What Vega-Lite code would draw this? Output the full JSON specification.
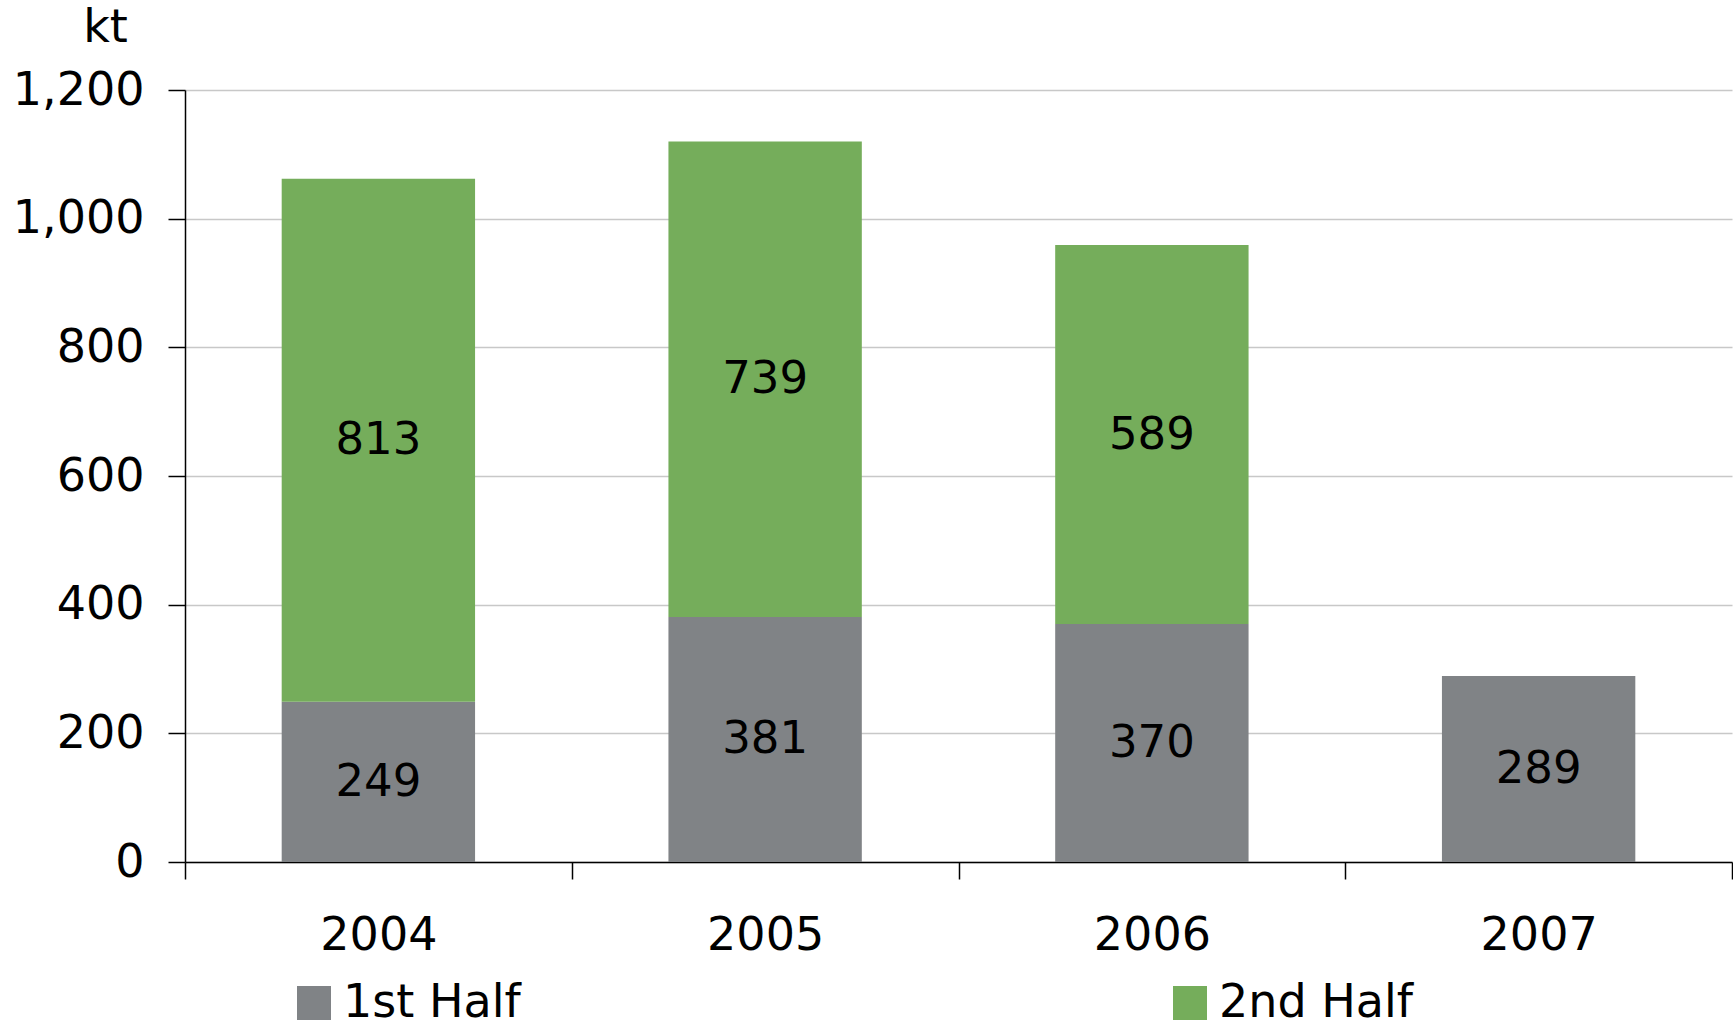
{
  "$schema": "https://vega.github.io/schema/vega-lite/v6.json",
  "autosize": "none",
  "padding": {"left": 185, "top": 90, "right": 1, "bottom": 165},
  "width": 1547,
  "height": 772,
  "background": "white",
  "config": {
    "view": {"stroke": null},
    "font": "DejaVu Sans"
  },
  "data": {
    "values": [
      {"year": "2004", "half": "1st Half", "order": 1, "kt": 249},
      {"year": "2004", "half": "2nd Half", "order": 2, "kt": 813},
      {"year": "2005", "half": "1st Half", "order": 1, "kt": 381},
      {"year": "2005", "half": "2nd Half", "order": 2, "kt": 739},
      {"year": "2006", "half": "1st Half", "order": 1, "kt": 370},
      {"year": "2006", "half": "2nd Half", "order": 2, "kt": 589},
      {"year": "2007", "half": "1st Half", "order": 1, "kt": 289}
    ]
  },
  "transform": [
    {"stack": "kt", "groupby": ["year"], "sort": [{"field": "order"}], "as": ["kt0", "kt1"]},
    {"calculate": "(datum.kt0 + datum.kt1) / 2", "as": "ktMid"}
  ],
  "encoding": {
    "x": {
      "field": "year",
      "type": "nominal",
      "scale": {"paddingInner": 0, "paddingOuter": 0},
      "axis": {
        "title": null,
        "tickBand": "extent",
        "tickSize": 17,
        "tickColor": "#000000",
        "tickWidth": 1.5,
        "domainColor": "#000000",
        "domainWidth": 1.5,
        "labelAngle": 0,
        "labelFont": "DejaVu Sans",
        "labelFontSize": 46,
        "labelColor": "#000000",
        "labelBaseline": "alphabetic",
        "labelPadding": 70,
        "grid": false
      }
    }
  },
  "layer": [
    {
      "mark": {"type": "bar", "width": {"band": 0.5}},
      "encoding": {
        "y": {
          "field": "kt0",
          "type": "quantitative",
          "scale": {"domain": [0, 1200], "nice": false},
          "axis": {
            "values": [0, 200, 400, 600, 800, 1000, 1200],
            "format": ",d",
            "title": "kt",
            "titleAngle": 0,
            "titleAlign": "center",
            "titleBaseline": "alphabetic",
            "titleX": -80,
            "titleY": -49,
            "titleFont": "DejaVu Sans",
            "titleFontSize": 46,
            "titleFontWeight": "normal",
            "titleColor": "#000000",
            "labelFont": "DejaVu Sans",
            "labelFontSize": 46,
            "labelColor": "#000000",
            "labelPadding": 24,
            "tickSize": 17,
            "tickColor": "#000000",
            "tickWidth": 1.5,
            "domainColor": "#000000",
            "domainWidth": 1.5,
            "grid": true,
            "gridColor": "#c8c8c8",
            "gridWidth": 1.5
          }
        },
        "y2": {"field": "kt1"},
        "color": {
          "field": "half",
          "type": "nominal",
          "scale": {"domain": ["1st Half", "2nd Half"], "range": ["#808386", "#75ad5b"]},
          "legend": {
            "title": null,
            "orient": "none",
            "legendX": 106,
            "legendY": 890,
            "direction": "horizontal",
            "columns": 2,
            "columnPadding": 646,
            "padding": 0,
            "symbolType": "square",
            "symbolSize": 1156,
            "symbolStrokeWidth": 0,
            "symbolOpacity": 1,
            "labelFont": "DejaVu Sans",
            "labelFontSize": 46,
            "labelColor": "#000000",
            "labelOffset": 6,
            "labelLimit": 400
          }
        }
      }
    },
    {
      "mark": {"type": "text", "font": "DejaVu Sans", "fontSize": 45, "color": "#000000", "baseline": "middle", "align": "center"},
      "encoding": {
        "y": {"field": "ktMid", "type": "quantitative"},
        "text": {"field": "kt", "type": "quantitative"}
      }
    }
  ]
}
